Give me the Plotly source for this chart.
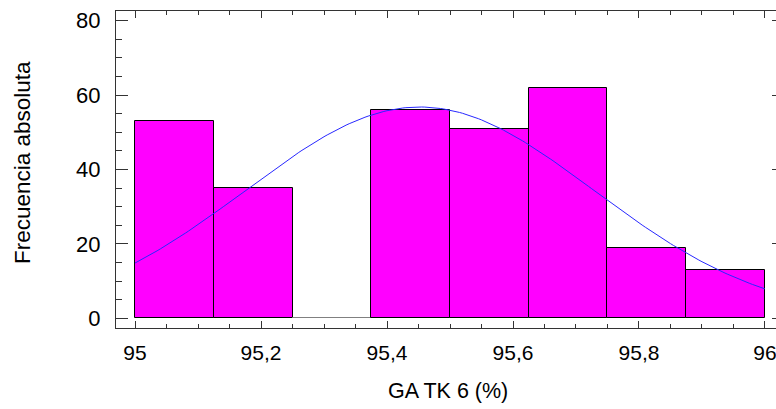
import numpy as np
import plotly.graph_objects as go

# Histogram data (bins of width 0.125 from 95 to 96)
bin_left = [95.0, 95.125, 95.25, 95.375, 95.5, 95.625, 95.75, 95.875]
bin_width = 0.125
counts = [53, 35, 0, 56, 51, 62, 19, 13]

# Fitted normal curve parameters
curve_mean = 95.452
curve_sd = 0.276
curve_peak = 56.8

x_tickvals = [95.0, 95.2, 95.4, 95.6, 95.8, 96.0]
x_ticktext = ["95", "95,2", "95,4", "95,6", "95,8", "96"]
y_tickvals = [0, 20, 40, 60, 80]
y_ticktext = ["0", "20", "40", "60", "80"]

x_title = "GA TK 6 (%)"
y_title = "Frecuencia absoluta"

centers = [b + bin_width / 2 for b in bin_left]
edge_colors = ["#808080" if c == 0 else "#000000" for c in counts]
xs = np.linspace(95.0, 96.0, 201)
ys = curve_peak * np.exp(-0.5 * ((xs - curve_mean) / curve_sd) ** 2)

FONT = "Liberation Sans, Arial, sans-serif"
AX = "#333333"

fig = go.Figure()
fig.add_trace(go.Bar(
    x=centers, y=counts, width=bin_width,
    marker=dict(color="#FF00FF", line=dict(color=edge_colors, width=1)),
    showlegend=False, hoverinfo="x+y",
))
fig.add_trace(go.Scatter(
    x=xs, y=ys, mode="lines",
    line=dict(color="rgb(40,40,255)", width=1),
    showlegend=False, hoverinfo="skip",
))
# empty trace to create a right-side axis for mirrored inner ticks
fig.add_trace(go.Scatter(x=[], y=[], yaxis="y2", showlegend=False, hoverinfo="skip"))

yr = [-2.6, 82.6]
fig.update_layout(
    width=776, height=409,
    margin=dict(l=116, r=0, t=11, b=81, autoexpand=False),
    paper_bgcolor="white", plot_bgcolor="white",
    font=dict(family=FONT, size=21, color="#000000"),
    bargap=0,
    xaxis=dict(
        range=[94.9698, 96.0175], automargin=False,
        tickvals=x_tickvals, ticktext=x_ticktext,
        ticks="inside", ticklen=7, tickwidth=1, tickcolor=AX,
        minor=dict(dtick=0.05, tick0=95, ticks="inside", ticklen=4, tickcolor=AX, showgrid=False),
        showline=True, linecolor=AX, linewidth=1, mirror="ticks",
        showgrid=False, zeroline=False,
        tickfont=dict(size=21), ticklabelstandoff=6, ticklabeloverflow="allow",
    ),
    yaxis=dict(
        range=yr, automargin=False,
        tickvals=y_tickvals, ticktext=y_ticktext,
        ticks="inside", ticklen=12, tickwidth=1, tickcolor=AX,
        minor=dict(dtick=5, tick0=0, ticks="inside", ticklen=6, tickcolor=AX, showgrid=False),
        showline=True, linecolor=AX, linewidth=1, mirror=False,
        showgrid=False, zeroline=False,
        tickfont=dict(size=22), ticklabelstandoff=10, ticklabeloverflow="allow",
    ),
    yaxis2=dict(
        range=yr, overlaying="y", side="right", automargin=False,
        tickvals=y_tickvals, showticklabels=False,
        ticks="inside", ticklen=4, tickwidth=1, tickcolor=AX,
        showline=False, showgrid=False, zeroline=False,
    ),
    annotations=[
        dict(text=x_title, xref="paper", yref="paper", x=0.503, y=-0.1987,
             xanchor="center", yanchor="middle", showarrow=False,
             font=dict(size=21.5)),
        dict(text=y_title, xref="paper", yref="paper", x=-0.1424, y=0.5205,
             xanchor="center", yanchor="middle", showarrow=False, textangle=-90,
             font=dict(size=22.5)),
    ],
)

fig.write_html(
    "out.html",
    config={"displayModeBar": False},
    post_script="document.body.style.margin='0';document.body.style.overflow='hidden';",
)
